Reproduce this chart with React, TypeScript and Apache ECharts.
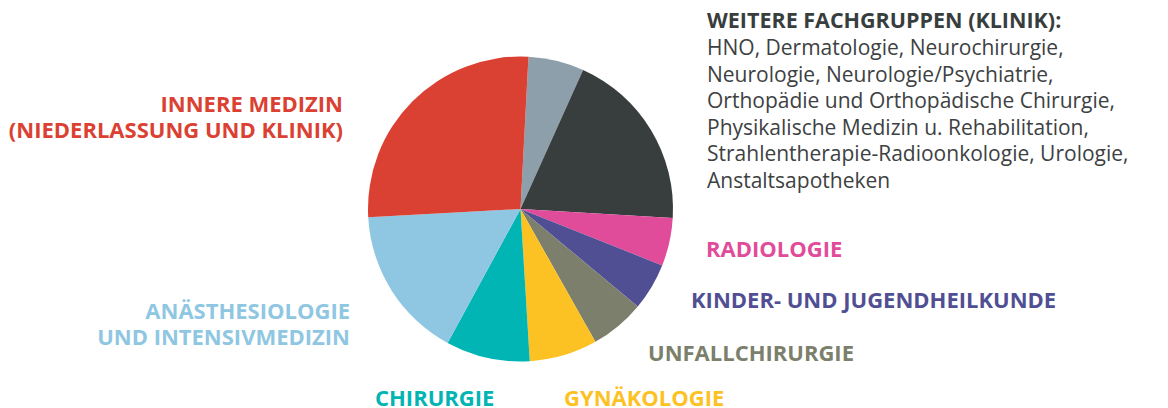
import React, { useEffect, useRef } from "react";
import * as echarts from "echarts";

const sliceNames = [
  "Sonstige",
  "Weitere Fachgruppen (Klinik)",
  "Radiologie",
  "Kinder- und Jugendheilkunde",
  "Unfallchirurgie",
  "Gynäkologie",
  "Chirurgie",
  "Anästhesiologie und Intensivmedizin",
  "Innere Medizin (Niederlassung und Klinik)",
];
const sliceValues = [5.9, 19.2, 5.1, 5.0, 5.8, 7.2, 8.9, 16.2, 26.7];
const sliceColors = [
  "#8d9faa",
  "#383d3e",
  "#e14c9a",
  "#514f94",
  "#7b7f6b",
  "#fcc224",
  "#00b5b3",
  "#8fc7e2",
  "#db4132",
];

const labelLines = [
  ["INNERE MEDIZIN", "(NIEDERLASSUNG UND KLINIK)"],
  ["ANÄSTHESIOLOGIE", "UND INTENSIVMEDIZIN"],
  ["RADIOLOGIE"],
  ["KINDER- UND JUGENDHEILKUNDE"],
  ["UNFALLCHIRURGIE"],
  ["CHIRURGIE"],
  ["GYNÄKOLOGIE"],
];
const labelColors = ["#db4132", "#8fc7e2", "#e14c9a", "#514f94", "#7b7f6b", "#00b5b3", "#fcc224"];
const labelPos: [number, number, string][] = [
  [343, 109.3, "right"],
  [350, 316.7, "right"],
  [706, 254, "left"],
  [691, 305, "left"],
  [648, 358, "left"],
  [375, 403, "left"],
  [564, 403, "left"],
];

const otherHeading = "WEITERE FACHGRUPPEN (KLINIK):";
const otherLines = [
  "HNO, Dermatologie, Neurochirurgie,",
  "Neurologie, Neurologie/Psychiatrie,",
  "Orthopädie und Orthopädische Chirurgie,",
  "Physikalische Medizin u. Rehabilitation,",
  "Strahlentherapie-Radioonkologie, Urologie,",
  "Anstaltsapotheken",
];

export default function App() {
  const ref = useRef<HTMLDivElement>(null);
  useEffect(() => {
    if (!ref.current) return;
    const chart = echarts.init(ref.current, undefined, { renderer: "svg" });
    const FS = 22;
    const LH = 25.5;
    const graphics: any[] = [];
    labelLines.forEach((lines, i) => {
      const [x, base, align] = labelPos[i];
      const firstCenter = base - FS * 0.285;
      const blockCenter = firstCenter + ((lines.length - 1) * LH) / 2;
      graphics.push({
        type: "text",
        x,
        y: blockCenter,
        style: {
          text: lines.join("\n"),
          fill: labelColors[i],
          font: `bold ${FS}px "Open Sans"`,
          lineHeight: LH,
          align,
          verticalAlign: "middle",
        },
      });
    });
    const HF = 21.5;
    graphics.push({
      type: "text",
      x: 707,
      y: 26 - HF * 0.285,
      style: {
        text: otherHeading,
        fill: "#383d3e",
        font: `bold ${HF}px "Open Sans"`,
        align: "left",
        verticalAlign: "middle",
      },
    });
    const BF = 21;
    const BLH = 26.5;
    graphics.push({
      type: "text",
      x: 707,
      y: 53.3 - BF * 0.285 + ((otherLines.length - 1) * BLH) / 2,
      style: {
        text: otherLines.join("\n"),
        fill: "#3d4142",
        font: `${BF}px "Open Sans"`,
        lineHeight: BLH,
        align: "left",
        verticalAlign: "middle",
      },
    });
    chart.setOption({
      animation: false,
      graphic: graphics,
      series: [
        {
          type: "pie",
          center: [520.5, 209],
          radius: 152.5,
          startAngle: 87,
          clockwise: true,
          label: { show: false },
          labelLine: { show: false },
          emphasis: { disabled: true },
          itemStyle: { borderWidth: 0 },
          data: sliceNames.map((n, i) => ({
            name: n,
            value: sliceValues[i],
            itemStyle: { color: sliceColors[i] },
          })),
        },
      ],
    });
    return () => chart.dispose();
  }, []);
  return (
    <div
      ref={ref}
      style={{ position: "fixed", left: 0, top: 0, width: 1168, height: 408, background: "#fff" }}
    />
  );
}
